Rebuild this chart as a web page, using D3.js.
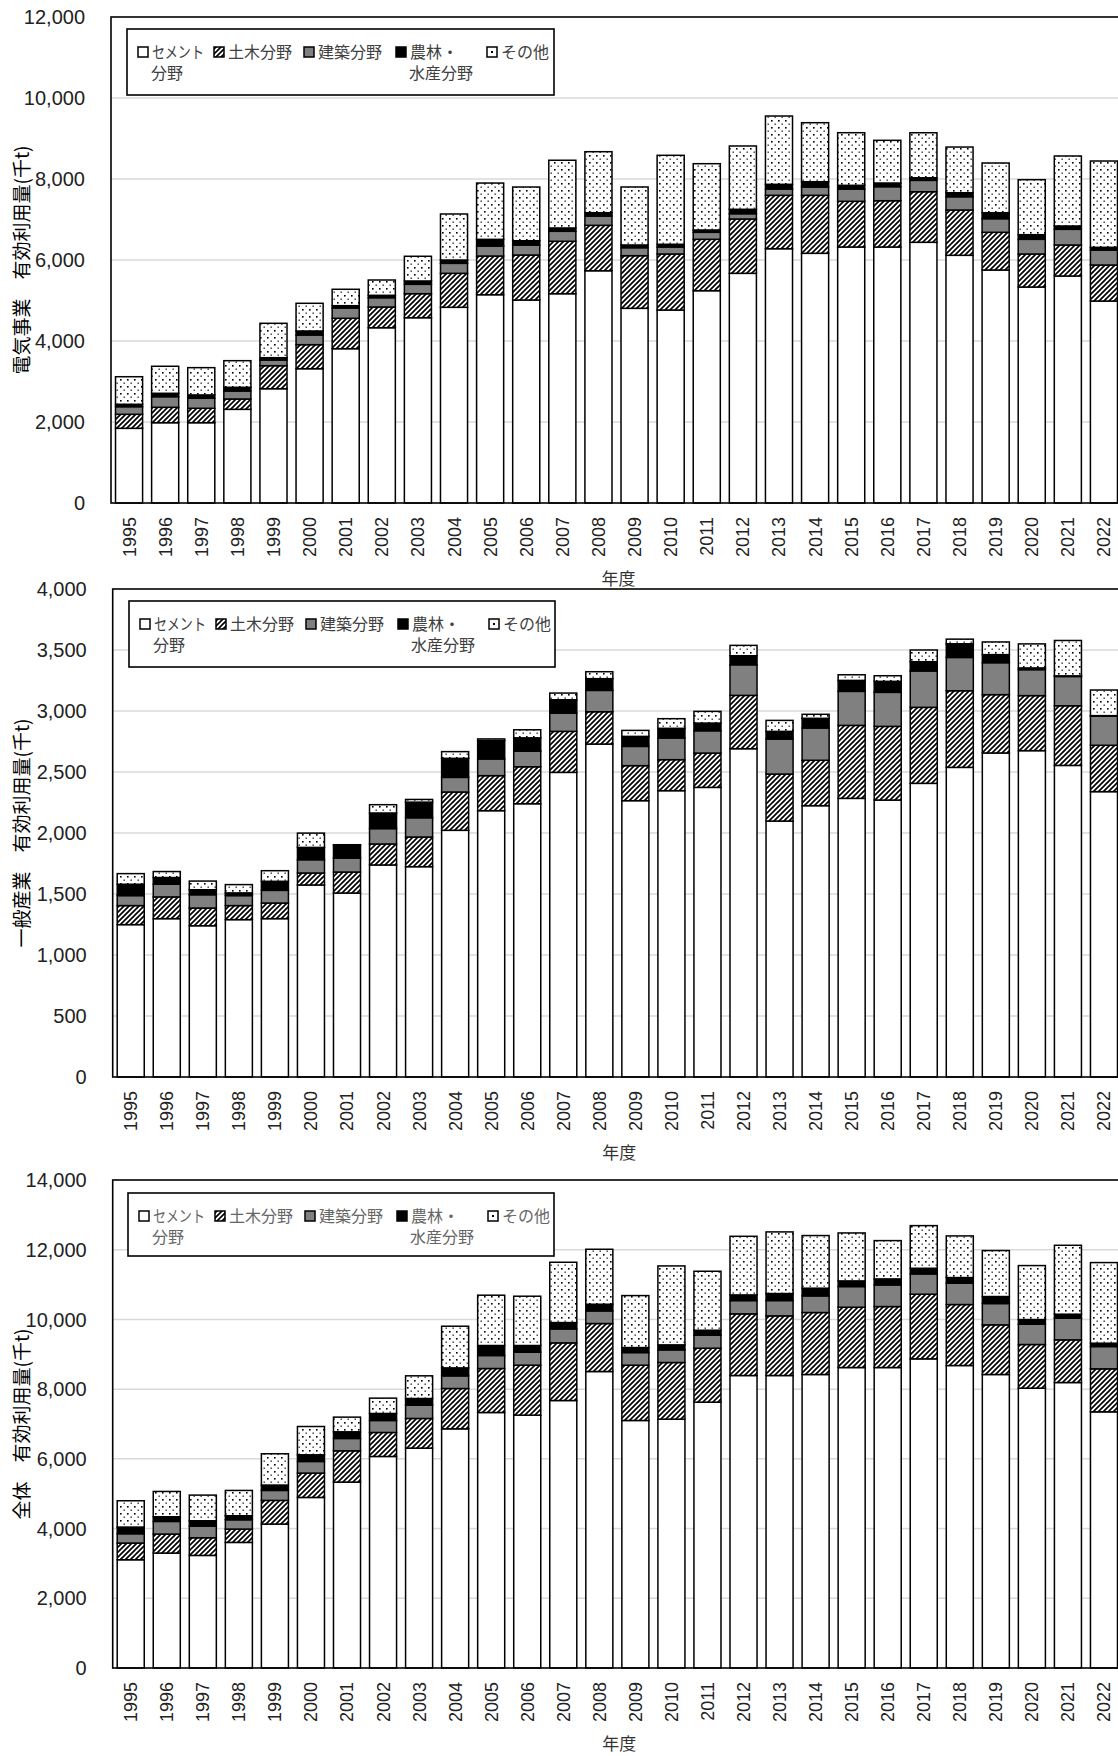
<!DOCTYPE html>
<html>
<head>
<meta charset="utf-8">
<script src="https://cdn.jsdelivr.net/npm/d3@7"></script>
<style>
  body { margin: 0; background: #fff; }
  svg { display: block; }
  .tick-y { font: 20px "Liberation Sans", Arial, sans-serif; fill: #222; }
  .tick-x { font: 18px "Liberation Sans", Arial, sans-serif; fill: #222; }
  .jp { font-family: "Noto Sans CJK JP", sans-serif; }
</style>
</head>
<body>
<div id="chart"></div>
<script>
const years = [1995, 1996, 1997, 1998, 1999, 2000, 2001, 2002, 2003, 2004, 2005, 2006, 2007, 2008,
               2009, 2010, 2011, 2012, 2013, 2014, 2015, 2016, 2017, 2018, 2019, 2020, 2021, 2022];
const seriesKeys   = ["cement", "civil", "building", "agri", "other"];
const seriesLabels = [["セメント", "分野"], ["土木分野"], ["建築分野"], ["農林・", "水産分野"], ["その他"]];

// 電気事業 (千t)
const powerCement   = [1844,1983,1983,2313,2822,3316,3810,4328,4575,4832,5143,5012,5168,5735,4807,4765,5242,5671,6279,6165,6321,6321,6437,6116,5753,5333,5605,4987];
const powerCivil    = [346,380,356,255,568,593,751,511,593,839,955,1111,1294,1121,1299,1383,1269,1341,1318,1432,1128,1143,1249,1118,931,815,765,889];
const powerBuilding = [188,262,247,198,141,239,254,230,232,247,247,247,247,230,198,173,173,131,156,205,304,346,281,328,336,363,388,370];
const powerAgri     = [59,84,82,91,57,99,57,59,82,82,165,106,82,82,67,67,57,109,116,131,91,91,64,99,148,114,82,67];
const powerOther    = [681,667,674,657,849,684,405,378,610,1136,1390,1326,1672,1506,1432,2197,1637,1563,1686,1457,1299,1054,1111,1128,1227,1358,1728,2131];

// 一般産業 (千t)
const indCement   = [1249,1298,1240,1290,1298,1574,1508,1738,1724,2022,2183,2240,2497,2729,2265,2347,2374,2691,2098,2224,2284,2270,2407,2538,2656,2675,2554,2339];
const indCivil    = [156,178,145,115,128,98,172,172,243,314,287,303,336,265,287,254,281,437,385,372,598,604,623,628,478,451,489,380];
const indBuilding = [82,104,109,82,104,109,115,126,158,120,137,128,150,175,158,178,183,251,287,265,279,279,298,273,262,213,240,238];
const indAgri     = [93,55,41,22,74,101,104,128,128,156,150,109,109,96,82,79,63,74,63,79,90,90,76,112,66,14,5,5];
const indOther    = [87,49,71,68,87,117,5,68,22,55,14,66,55,57,49,79,96,85,90,33,46,46,96,38,104,197,290,210];

// 全体 (千t)
const allCement   = [3106,3297,3230,3603,4129,4893,5333,6069,6308,6862,7330,7254,7674,8506,7101,7139,7626,8391,8391,8420,8620,8620,8869,8678,8420,8028,8190,7349];
const allCivil    = [478,545,507,382,679,698,898,688,851,1156,1262,1434,1653,1376,1586,1625,1548,1768,1711,1778,1730,1749,1854,1749,1424,1252,1223,1233];
const allBuilding = [268,363,334,268,287,334,354,344,382,363,373,373,401,363,363,363,373,382,440,478,593,621,583,612,612,583,621,640];
const allAgri     = [191,134,153,115,153,191,191,201,191,229,287,191,182,191,143,143,143,162,201,220,162,172,162,162,201,134,115,96];
const allOther    = [755,726,736,726,898,812,421,440,650,1195,1443,1414,1730,1577,1491,2265,1692,1682,1768,1510,1376,1099,1223,1195,1319,1548,1978,2313];

const W = 1118, H = 1756;
const fills = {
  cement: "#ffffff",
  civil: "url(#hatch)",
  building: "#808080",
  agri: "#000000",
  other: "url(#dots)"
};

const svg = d3.select("#chart").append("svg")
  .attr("width", W).attr("height", H)
  .attr("viewBox", `0 0 ${W} ${H}`);

const defs = svg.append("defs");
const hatch = defs.append("pattern").attr("id", "hatch")
  .attr("patternUnits", "userSpaceOnUse").attr("width", 5).attr("height", 5);
hatch.append("rect").attr("width", 5).attr("height", 5).attr("fill", "#fff");
hatch.append("path").attr("d", "M-1,1 L1,-1 M0,5 L5,0 M4,6 L6,4")
  .attr("stroke", "#000").attr("stroke-width", 1.7);

const dots = defs.append("pattern").attr("id", "dots")
  .attr("patternUnits", "userSpaceOnUse").attr("width", 7).attr("height", 7);
dots.append("rect").attr("width", 7).attr("height", 7).attr("fill", "#fff");
dots.append("rect").attr("x", 1).attr("y", 1).attr("width", 1.6).attr("height", 1.6).attr("fill", "#000");
dots.append("rect").attr("x", 4.5).attr("y", 4.5).attr("width", 1.4).attr("height", 1.4).attr("fill", "#333");

const panels = [
  {
    title: "電気事業　有効利用量(千t)",
    series: [powerCement, powerCivil, powerBuilding, powerAgri, powerOther],
    yMax: 12000, yStep: 2000,
    top: 17, bottom: 503, left: 111,
    legend: {x: 127, y: 29, w: 427, h: 66}, legendColor: "#404040"
  },
  {
    title: "一般産業　有効利用量(千t)",
    series: [indCement, indCivil, indBuilding, indAgri, indOther],
    yMax: 4000, yStep: 500,
    top: 589, bottom: 1077, left: 112.7,
    legend: {x: 129, y: 601, w: 426, h: 66}, legendColor: "#404040"
  },
  {
    title: "全体　有効利用量(千t)",
    series: [allCement, allCivil, allBuilding, allAgri, allOther],
    yMax: 14000, yStep: 2000,
    top: 1180, bottom: 1668, left: 112.7,
    legend: {x: 128, y: 1193, w: 426, h: 63}, legendColor: "#666"
  }
];

const plotRight = 1122;

panels.forEach(p => drawPanel(p));

function drawPanel(p) {
  const rows = years.map((y, i) => {
    const row = {year: y};
    seriesKeys.forEach((k, j) => row[k] = p.series[j][i]);
    return row;
  });
  const stacked = d3.stack().keys(seriesKeys)(rows);

  const x = d3.scaleBand().domain(years).range([p.left, plotRight])
    .paddingInner(0.25).paddingOuter(0.125);
  const y = d3.scaleLinear().domain([0, p.yMax]).range([p.bottom, p.top]);
  const ticks = d3.range(0, p.yMax + 1, p.yStep);

  const g = svg.append("g");

  // gridlines
  g.append("g").selectAll("line")
    .data(ticks.filter(t => t > 0 && t < p.yMax))
    .join("line")
      .attr("x1", p.left).attr("x2", plotRight)
      .attr("y1", d => y(d)).attr("y2", d => y(d))
      .attr("stroke", "#d9d9d9").attr("stroke-width", 1.5);

  // y tick labels
  g.append("g").selectAll("text")
    .data(ticks)
    .join("text")
      .attr("class", "tick-y")
      .attr("x", p.left - 26)
      .attr("y", d => y(d))
      .attr("dy", "0.36em")
      .attr("text-anchor", "end")
      .text(d3.format(","));

  // bars
  g.append("g").selectAll("g")
    .data(stacked)
    .join("g")
      .attr("fill", d => fills[d.key])
    .selectAll("rect")
    .data(d => d)
    .join("rect")
      .attr("x", d => x(d.data.year))
      .attr("width", x.bandwidth())
      .attr("y", d => y(d[1]))
      .attr("height", d => y(d[0]) - y(d[1]))
      .attr("stroke", "#000").attr("stroke-width", 1.5);

  // plot frame
  g.append("rect")
    .attr("x", p.left).attr("y", p.top)
    .attr("width", plotRight - p.left).attr("height", p.bottom - p.top)
    .attr("fill", "none").attr("stroke", "#000").attr("stroke-width", 1.6);

  // x tick labels (rotated)
  g.append("g").selectAll("text")
    .data(years)
    .join("text")
      .attr("class", "tick-x")
      .attr("transform", d => `translate(${x(d) + x.bandwidth() / 2},${p.bottom + 14}) rotate(-90)`)
      .attr("dy", "0.36em")
      .attr("text-anchor", "end")
      .text(d => d);

  // x axis title
  g.append("text")
    .attr("class", "jp")
    .attr("x", (p.left + plotRight) / 2 + 2)
    .attr("y", p.bottom + 76)
    .attr("dy", "0.36em")
    .attr("text-anchor", "middle")
    .attr("font-size", 17)
    .attr("fill", "#333")
    .text("年度");

  // y axis title
  g.append("text")
    .attr("class", "jp")
    .attr("transform", `translate(22,${(p.top + p.bottom) / 2}) rotate(-90)`)
    .attr("dy", "0.36em")
    .attr("text-anchor", "middle")
    .attr("font-size", 19)
    .attr("fill", "#000")
    .text(p.title);

  // legend
  const L = p.legend;
  const lg = g.append("g").attr("transform", `translate(${L.x},${L.y})`);
  lg.append("rect").attr("width", L.w).attr("height", L.h)
    .attr("fill", "#fff").attr("stroke", "#000").attr("stroke-width", 1.6);
  const itemX = [11, 87, 177, 269, 360];
  seriesKeys.forEach((k, i) => {
    const it = lg.append("g").attr("transform", `translate(${itemX[i]},0)`);
    it.append("rect").attr("x", 0).attr("y", 18).attr("width", 10).attr("height", 10)
      .attr("fill", k === "other" ? "#fff" : fills[k])
      .attr("stroke", "#000").attr("stroke-width", 1.5);
    if (k === "other") {
      it.append("rect").attr("x", 4).attr("y", 22).attr("width", 2).attr("height", 2).attr("fill", "#000");
    }
    // wrapped label: one text element, one tspan per line
    const tx = it.append("text")
      .attr("class", "jp")
      .attr("font-size", 16)
      .attr("fill", p.legendColor);
    seriesLabels[i].forEach((t, li) => {
      const ts = tx.append("tspan")
        .attr("x", li === 0 ? 14 : 13)
        .attr("y", li === 0 ? 23 : 44)
        .attr("dy", "0.36em")
        .text(t);
      if (t === "セメント") ts.attr("textLength", 52).attr("lengthAdjust", "spacingAndGlyphs");
    });
  });
}
</script>
</body>
</html>
